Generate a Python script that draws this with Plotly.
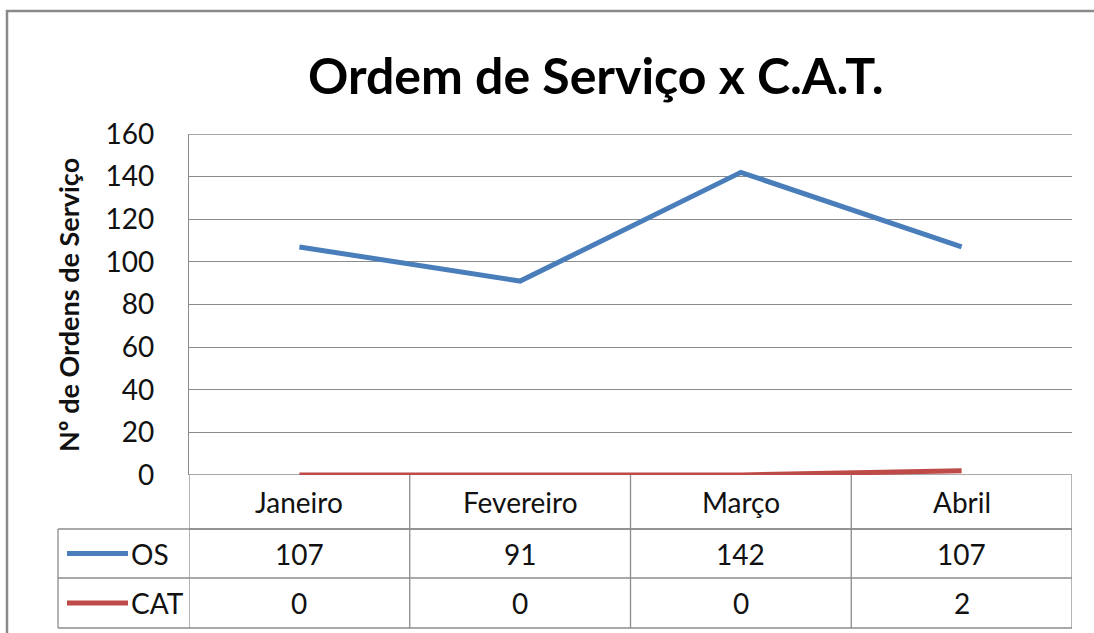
import plotly.graph_objects as go

months = ["Janeiro", "Fevereiro", "Março", "Abril"]
os_values = [107, 91, 142, 107]
cat_values = [0, 0, 0, 2]
series_names = ["OS", "CAT"]
y_ticks = [0, 20, 40, 60, 80, 100, 120, 140, 160]

W, H = 1094, 633
L, R, T, B = 189, 1072, 134, 475  # plot area pixels
PW, PH = R - L, B - T

def px(xp):
    return (xp - L) / PW

def py(yp):
    return (B - yp) / PH

BLUE = "#4A7EBB"
RED = "#BE4B48"
GRID = "#8C8C8C"
FONT = "Lato"
TXT = "#111111"
FS = 28

fig = go.Figure()
fig.add_trace(go.Scatter(x=months, y=os_values, mode="lines", name=series_names[0],
                         line=dict(color=BLUE, width=5), hoverinfo="x+y"))
fig.add_trace(go.Scatter(x=months, y=cat_values, mode="lines", name=series_names[1],
                         line=dict(color=RED, width=5), hoverinfo="x+y", cliponaxis=False))

shapes = []
annotations = []

# outer chart border
shapes.append(dict(type="rect", xref="paper", yref="paper", x0=px(7), x1=px(1110),
                   y0=py(645), y1=py(11), line=dict(color="#8A8A8A", width=2.5)))

# edge gridlines (0 and top)
for v in (y_ticks[0], y_ticks[-1]):
    shapes.append(dict(type="line", xref="x", yref="y", x0=-0.5, x1=3.5, y0=v, y1=v,
                       layer="below", line=dict(color=GRID, width=1.3)))

# data table rows (pixel y)
header_top, header_bot = 475, 529
row1_bot, row2_bot = 578, 628
left_col = 58

shapes.append(dict(type="line", xref="x", yref="paper", x0=-0.5, x1=3.5,
                   y0=py(header_bot), y1=py(header_bot), line=dict(color=GRID, width=1.3)))
for yy in [header_bot, row1_bot, row2_bot]:
    shapes.append(dict(type="line", xref="paper", yref="paper", x0=px(left_col), x1=1,
                       y0=py(yy), y1=py(yy), line=dict(color=GRID, width=1.3)))
for i in range(len(months) + 1):
    shapes.append(dict(type="line", xref="x", yref="paper", x0=i - 0.5, x1=i - 0.5,
                       y0=py(header_top), y1=py(row2_bot), line=dict(color=GRID, width=1.3)))
shapes.append(dict(type="line", xref="paper", yref="paper", x0=px(left_col), x1=px(left_col),
                   y0=py(header_bot), y1=py(row2_bot), line=dict(color=GRID, width=1.3)))

for m in months:
    annotations.append(dict(x=m, y=py((header_top + header_bot) / 2), xref="x", yref="paper",
                            text=m, showarrow=False, font=dict(family=FONT, size=FS, color=TXT),
                            yanchor="middle"))

rows = [(os_values, BLUE, series_names[0], header_bot, row1_bot),
        (cat_values, RED, series_names[1], row1_bot, row2_bot)]
for vals, col, name, y0, y1 in rows:
    yc = (y0 + y1) / 2
    for m, v in zip(months, vals):
        annotations.append(dict(x=m, y=py(yc), xref="x", yref="paper", text=str(v),
                                showarrow=False, font=dict(family=FONT, size=FS, color=TXT),
                                yanchor="middle"))
    shapes.append(dict(type="line", xref="paper", yref="paper", x0=px(67), x1=px(128),
                       y0=py(yc), y1=py(yc), line=dict(color=col, width=5)))
    annotations.append(dict(x=px(129), y=py(yc), xref="paper", yref="paper", text=name,
                            showarrow=False, xanchor="left", yanchor="middle",
                            font=dict(family=FONT, size=FS, color=TXT)))

annotations.append(dict(x=px(68), y=py(305), xref="paper", yref="paper",
                        text="<b>Nº de Ordens de Serviço</b>", textangle=-90, showarrow=False,
                        xanchor="center", yanchor="middle",
                        font=dict(family=FONT, size=27, color=TXT)))

annotations.append(dict(x=px(596), y=py(75), xref="paper", yref="paper",
                        text="<b>Ordem de Serviço x C.A.T.</b>", showarrow=False,
                        xanchor="center", yanchor="middle",
                        font=dict(family=FONT, size=50, color="#000000")))

fig.update_layout(
    width=W, height=H,
    margin=dict(l=L, r=W - R, t=T, b=H - B, pad=0),
    paper_bgcolor="white", plot_bgcolor="white",
    showlegend=False,
    shapes=shapes, annotations=annotations,
    xaxis=dict(range=[-0.5, 3.5], showticklabels=False, showgrid=False, zeroline=False,
               showline=False, ticks="", fixedrange=True),
    yaxis=dict(range=[0, 160], tickvals=y_ticks, showgrid=True, gridcolor=GRID, gridwidth=1.3,
               zeroline=False, showline=True, linecolor=GRID, linewidth=1.3,
               ticks="outside", ticklen=28, tickcolor="rgba(0,0,0,0)",
               tickfont=dict(family=FONT, size=FS, color=TXT), fixedrange=True),
)

fig.write_html("out.html", config={"displayModeBar": False},
               post_script="document.body.style.margin='0';")
